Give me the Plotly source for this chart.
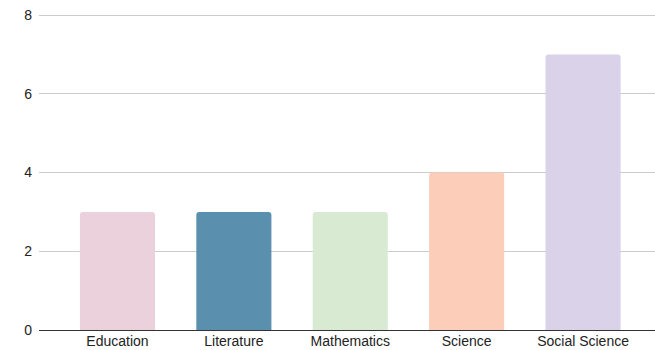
import plotly.graph_objects as go

categories = ["Education", "Literature", "Mathematics", "Science", "Social Science"]
values = [3, 3, 3, 4, 7]
colors = ["#EAD1DC", "#5A8FAD", "#D9EAD3", "#FCCDB8", "#D9D2E9"]
y_ticks = [0, 2, 4, 6, 8]

fig = go.Figure(go.Bar(
    x=list(range(len(categories))), y=values,
    marker=dict(color=colors, line=dict(width=0), cornerradius=3),
    width=0.645,
))

fig.update_layout(
    width=655, height=350,
    margin=dict(l=39, r=0, t=14, b=20),
    plot_bgcolor="white", paper_bgcolor="white",
    showlegend=False,
    font=dict(family="Arial, Liberation Sans, sans-serif", size=14, color="#222"),
    xaxis=dict(
        range=[-0.674, 4.618], automargin=False,
        tickmode="array", tickvals=list(range(len(categories))), ticktext=categories,
        showgrid=False, zeroline=False, showline=False, ticks="",
        ticklabelstandoff=1,
    ),
    yaxis=dict(
        range=[0, 8.03], tickvals=y_ticks, automargin=False,
        showgrid=True, gridcolor="#CCCCCC", gridwidth=1,
        zeroline=True, zerolinecolor="#333333", zerolinewidth=1,
        showline=False, ticks="", ticklabelstandoff=6,
    ),
)

fig.write_html("out.html")
